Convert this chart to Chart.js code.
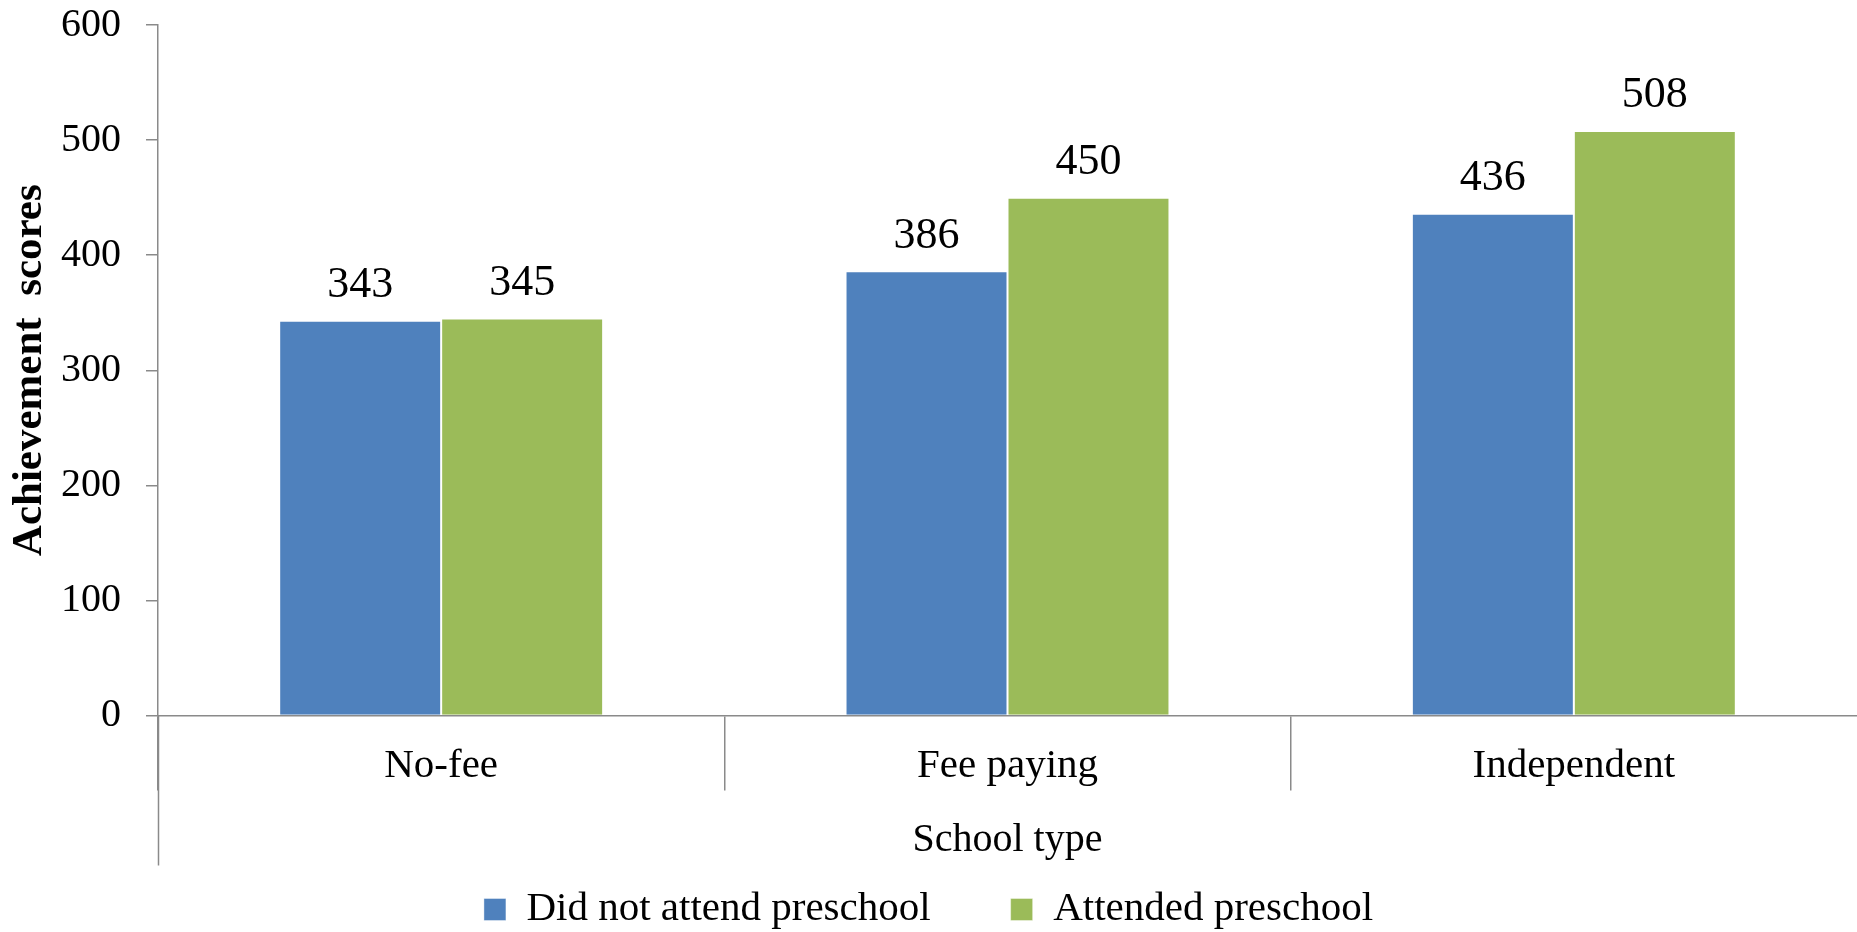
<!DOCTYPE html>
<html>
<head>
<meta charset="utf-8">
<title>Achievement scores by school type</title>
<script src="https://cdn.jsdelivr.net/npm/chart.js@4.4.1/dist/chart.umd.min.js"></script>
<style>
  html, body { margin: 0; padding: 0; background: #ffffff; }
  #wrap { position: relative; width: 1857px; height: 932px; }
</style>
</head>
<body>
<div id="wrap"><canvas id="chart"></canvas></div>
<script>
// Categories and series
const schoolTypes = ['No-fee', 'Fee paying', 'Independent'];
const seriesNames = ['Did not attend preschool', 'Attended preschool'];
const notAttended = [343, 386, 436];
const attended = [345, 450, 508];

// Value axis range
const yMin = 0;
const yMax = 600;
const yStep = 100;

// Axis titles
const yTitle = 'Achievement  scores';
const xTitle = 'School type';

const FONT = "'Liberation Serif', 'Times New Roman', serif";
const AXIS_GREY = '#8a8a8a';

// Value labels above each bar
const barValueLabels = {
  id: 'barValueLabels',
  afterDatasetsDraw(chart) {
    const ctx = chart.ctx;
    ctx.save();
    ctx.font = '44px ' + FONT;
    ctx.fillStyle = '#000000';
    ctx.textAlign = 'center';
    ctx.textBaseline = 'alphabetic';
    chart.data.datasets.forEach((ds, di) => {
      const meta = chart.getDatasetMeta(di);
      meta.data.forEach((bar, i) => {
        ctx.fillText(String(ds.data[i]), bar.x, bar.y - 23.5);
      });
    });
    ctx.restore();
  }
};

// The value axis line continues down through the category label band
const axisExtension = {
  id: 'axisExtension',
  afterDraw(chart) {
    const { ctx, chartArea } = chart;
    const x = Math.round(chartArea.left) + 0.5;
    ctx.save();
    ctx.strokeStyle = AXIS_GREY;
    ctx.lineWidth = 1.5;
    ctx.beginPath();
    ctx.moveTo(x, chartArea.bottom);
    ctx.lineTo(x, chartArea.bottom + 150);
    ctx.stroke();
    ctx.restore();
  }
};

new Chart(document.getElementById('chart'), {
  type: 'bar',
  data: {
    labels: schoolTypes,
    datasets: [
      {
        label: seriesNames[0],
        data: notAttended,
        backgroundColor: '#4F81BD',
        borderColor: 'rgba(255,255,255,0.4)',
        borderWidth: 1
      },
      {
        label: seriesNames[1],
        data: attended,
        backgroundColor: '#9BBB59',
        borderColor: 'rgba(255,255,255,0.4)',
        borderWidth: 1
      }
    ]
  },
  options: {
    responsive: true,
    maintainAspectRatio: false,
    animation: false,
    events: [],
    layout: { padding: { top: 25, left: 0, right: 0, bottom: -8 } },
    datasets: {
      bar: { categoryPercentage: 0.572, barPercentage: 1.0 }
    },
    plugins: {
      tooltip: { enabled: false },
      legend: {
        position: 'bottom',
        align: 'center',
        labels: {
          color: '#000000',
          font: { family: FONT, size: 41 },
          boxWidth: 22,
          boxHeight: 22,
          padding: 80
        }
      }
    },
    scales: {
      x: {
        type: 'category',
        offset: true,
        grid: {
          offset: true,
          drawOnChartArea: false,
          drawTicks: true,
          tickLength: 75,
          lineWidth: 1.5,
          color: (c) => (c.type === 'tick' ? AXIS_GREY : 'rgba(0,0,0,0)')
        },
        border: { display: true, color: AXIS_GREY, width: 1.5 },
        ticks: {
          color: '#000000',
          font: { family: FONT, size: 41 },
          padding: -49,
          maxRotation: 0,
          autoSkip: false
        },
        title: {
          display: true,
          text: xTitle,
          color: '#000000',
          font: { family: FONT, size: 40 },
          padding: { top: 0, bottom: -55 }
        },
        afterFit(scale) { scale.height = 93.5; }
      },
      y: {
        min: yMin,
        max: yMax,
        grid: {
          drawOnChartArea: false,
          drawTicks: true,
          tickLength: 12,
          lineWidth: 1.5,
          color: AXIS_GREY
        },
        border: { display: true, color: AXIS_GREY, width: 1.5 },
        ticks: {
          stepSize: yStep,
          color: '#000000',
          font: { family: FONT, size: 40 },
          padding: 25
        },
        title: {
          display: true,
          text: yTitle,
          color: '#000000',
          font: { family: FONT, size: 43, weight: 'bold' },
          padding: { top: 4, bottom: 0 }
        },
        afterFit(scale) {
          scale.width = 158;
          scale.paddingTop = 0;
          scale.paddingBottom = 0;
        }
      }
    }
  },
  plugins: [barValueLabels, axisExtension]
});
</script>
</body>
</html>
